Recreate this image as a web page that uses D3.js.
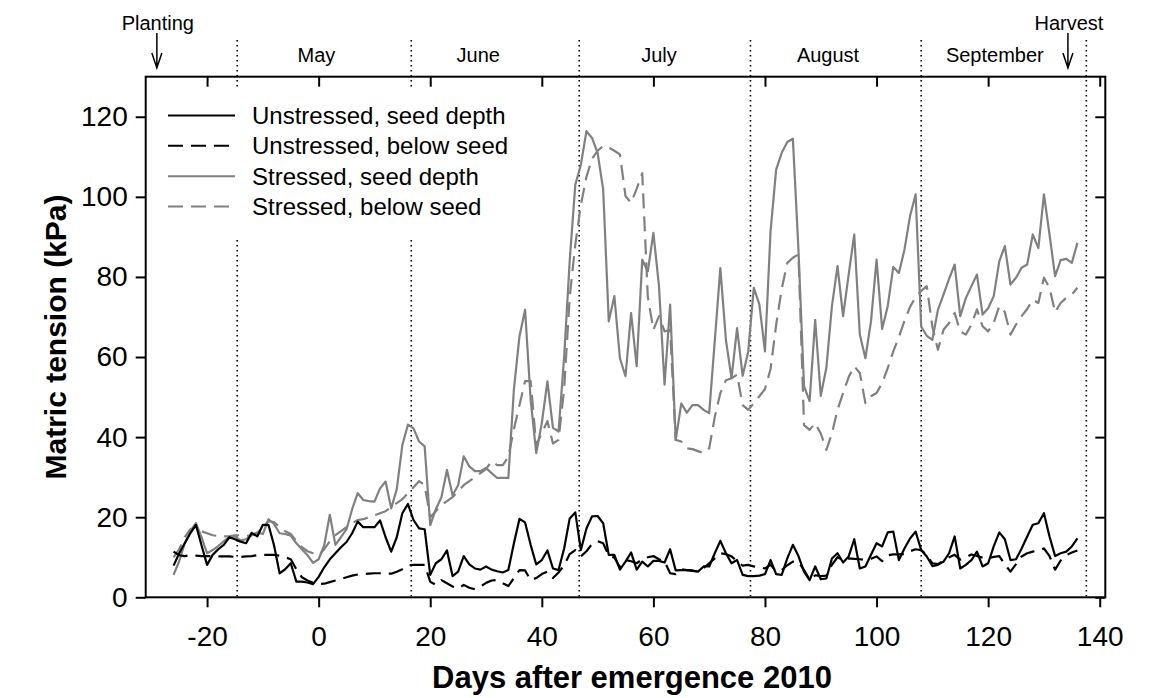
<!DOCTYPE html>
<html>
<head>
<meta charset="utf-8">
<script src="https://cdn.jsdelivr.net/npm/d3@7"></script>
<style>
  html, body { margin: 0; padding: 0; background: #ffffff; }
  svg { display: block; font-family: "Liberation Sans", Arial, Helvetica, sans-serif; }
</style>
</head>
<body>
<svg id="chart" width="1152" height="698"></svg>
<script>
// Daily soil matric tension, days after emergence (2010 season)
const days = d3.range(-26, 137);

const unstressedSeed = [
  7.9, 11, 13.5, 16, 18.1, 13, 8.1, 10.6, 12, 13.1,
  15, 14.5, 13.9, 13.5, 16.1, 15.2, 18.1, 18.1, 13, 6,
  7, 8.5, 3.9, 3.9, 3.7, 3.3, 5.1, 7.5, 9.5, 11,
  12.5, 13.8, 16, 18.9, 17.5, 17.5, 17.5, 19.2, 15, 11.4,
  15, 21, 23.3, 19.3, 17.2, 17, 5.6, 8.5, 9.5, 11.7,
  5.3, 6.4, 10.3, 8.2, 7.2, 6.9, 7.7, 6.9, 6.5, 6.2,
  6.8, 13.5, 19.6, 18.7, 13.1, 8.2, 9.3, 11.7, 7.2, 6.8,
  12.2, 19.7, 21.2, 11.8, 17.2, 20.2, 20.3, 18.5, 10.6, 10.6,
  6.9, 8.9, 11.2, 6.9, 8.9, 7.7, 9.1, 9.1, 8.7, 12,
  6.7, 6.8, 6.8, 6.7, 6.4, 7.7, 7.7, 11, 14.1, 11,
  8.5, 9.3, 5.6, 5.3, 5.3, 5.4, 5.8, 9.3, 5.8, 5.6,
  9.7, 13.1, 10.3, 6.4, 4.3, 7.7, 4.5, 4.7, 9.7, 11,
  8.7, 10.2, 14.5, 7.2, 7.7, 10.6, 13.5, 12.7, 16.2, 16.4,
  9.3, 12.2, 14.7, 16.4, 11.8, 10.2, 7.8, 8.1, 8.9, 11,
  15.2, 7.2, 8.1, 9.3, 11.4, 7.7, 8.5, 12.7, 16.2, 14.5,
  9.3, 9.5, 12.2, 15.2, 18.1, 18.5, 21, 15.2, 10.3, 11,
  11.4, 12.7, 14.7
];

const unstressedBelow = [
  11.4, 10.5, 10.3, 10.5, 10.4, 10.3, 10.3, 10.3, 10.2, 10.2,
  10.2, 10.1, 10.1, 10.2, 10.3, 10.5, 10.6, 10.6, 10.6, 10.4,
  10, 9.5, 7, 5, 4.2, 3.6, 3.3, 3.4, 3.8, 4.2,
  4.6, 5, 5.4, 5.7, 5.8, 5.9, 6, 6, 5.9, 5.9,
  6.4, 7, 8, 8.1, 8.1, 8.1, 3.9, 3.1, 4.3, 3.5,
  2.7, 2.2, 3.1, 2.4, 2, 2.7, 3.6, 4.2, 4.3, 3.5,
  2.8, 4.8, 6.8, 6.7, 4.3, 4.8, 5.8, 6.4, 4.8, 6.2,
  8, 10.8, 11.8, 10.2, 11.5, 13.3, 14, 13.5, 10.4, 9.9,
  7.5, 9.3, 9, 8.5, 9.5, 10, 10.3, 9.5, 9, 6,
  5.8, 7, 6.8, 6.6, 6.4, 7.3, 8.5, 9.7, 11, 10.8,
  10.2, 9, 7.9, 8.1, 7.7, 7.5, 7.2, 8.1, 6.5, 6.8,
  8, 8.9, 8.9, 6.8, 4.4, 5.5, 5.3, 5.4, 8.1, 10,
  9.3, 9.7, 9.6, 9.5, 9.3, 9.6, 10.2, 9, 10.5, 10.7,
  10.7, 10.8, 11.5, 12, 11.8, 10.5, 8.5, 8.3, 9.2, 10,
  10.6, 9.4, 10, 10.7, 10.3, 9.9, 9.7, 10.1, 10.3, 8.2,
  6.4, 8.3, 10.2, 11, 11.4, 11.7, 12.2, 10.3, 6.9, 9.2,
  10.5, 11.2, 11.7
];

const stressedSeed = [
  5.6, 9, 13.5, 16.5, 18.5, 15, 11, 11.8, 12.8, 14,
  15, 15.2, 14.2, 14.5, 15.5, 16.2, 15.8, 19.5, 18.3, 16,
  15.8, 15.4, 13.5, 12, 10.5, 8.6, 9.5, 13, 20.6, 13.1,
  15, 17, 22, 26, 24.3, 24, 23.9, 27.2, 28.9, 22.2,
  27, 38, 43.1, 42.2, 38.9, 37.7, 18, 22, 25, 31.8,
  25.5, 28, 35.2, 32.7, 31.5, 31.5, 32.3, 31, 29.8, 29.8,
  29.8, 52, 65.2, 71.8, 49.3, 36, 43.5, 53.9, 42.3, 41.4,
  60, 84, 103, 108, 116.4, 114.7, 111, 101.8, 68.9, 75.2,
  59.7, 55.2, 71, 57.7, 84.3, 81.4, 91, 77.7, 53.1, 73.1,
  39.3, 48.4, 46.1, 48, 48, 46.8, 46, 64, 82.2, 64.3,
  54.7, 67.2, 55.3, 61.4, 77.3, 73.1, 61.4, 91.4, 106.8, 111,
  113.7, 114.5, 86.8, 52.7, 49, 69.3, 50.3, 57.3, 72.7, 82.7,
  70.2, 80.6, 90.6, 65.6, 59.7, 68.9, 84.3, 67, 72.7, 82.5,
  81, 86.8, 95.2, 100.6, 67.6, 65.3, 64.3, 71.8, 75.6, 79.5,
  83.1, 70.2, 74.7, 77.7, 80.6, 70.6, 72.2, 75.2, 83.9, 87.7,
  78.1, 79.8, 82.3, 83.1, 90.6, 87.2, 100.6, 90.6, 80.2, 84.2,
  84.5, 83.5, 88.5
];

const stressedBelow = [
  10, 12, 15, 17, 17.5, 16.5, 16, 15.5, 15.3, 15.2,
  15.3, 15.5, 15.5, 15.3, 15.5, 16, 17.5, 19, 18.8, 17.5,
  16.5, 15.8, 14, 12.5, 11.5, 11, 10.5, 12, 14, 15.5,
  16.5, 17.5, 18.5, 19.3, 19.5, 20, 20.5, 21, 21.5, 22.5,
  23.5, 24.5, 26, 27.5, 29, 28, 20, 21.5, 23, 24,
  25, 26.5, 28, 29, 30, 31, 32, 34, 33, 33,
  35, 42, 48, 54, 54, 38, 41, 44, 38.4, 39.3,
  52, 75, 88, 98, 105, 109.5, 111.5, 112.7, 112.3, 111.5,
  110.6, 100.2, 98.5, 102, 105.9, 75, 66.8, 70.2, 66.4, 66.8,
  39.3, 38.9, 37.2, 37, 36.5, 36, 37.2, 45, 51, 54.2,
  54.7, 55.6, 48, 46.8, 48.5, 50.2, 52, 57, 68, 77,
  83.5, 84.8, 85.6, 43, 41.8, 43.5, 40.9, 36.8, 40.9, 46.8,
  51, 55, 57.7, 56, 48.5, 50.2, 51, 53.5, 57.2, 61.4,
  65, 69, 72.5, 75, 76.5, 77.7, 67.6, 61.8, 66.8, 68.5,
  71, 66.4, 65.6, 68.1, 71.9, 67.7, 66.4, 68.5, 72.7, 71.2,
  65.6, 68.1, 70.2, 72, 74.3, 73.5, 79.8, 77.3, 71.2, 73.5,
  74.8, 75.6, 77.3
];

const seriesNames = [
  "Unstressed, seed depth",
  "Unstressed, below seed",
  "Stressed, seed depth",
  "Stressed, below seed"
];
const seriesValues = [unstressedSeed, unstressedBelow, stressedSeed, stressedBelow];

const xTicks = [-20, 0, 20, 40, 60, 80, 100, 120, 140];
const yTicks = [0, 20, 40, 60, 80, 100, 120];

// Month boundaries and label centres, in days after emergence
const monthStarts = [-14.6, 16.6, 46.7, 77.4, 108.0, 137.6];
const monthNames = ["May", "June", "July", "August", "September"];
const monthLabelDays = [-0.4, 28.6, 61.0, 91.3, 121.2];

const eventNames = ["Planting", "Harvest"];
const eventDays = [-29.0, 134.3];

// ---- layout and styles ----
const box = { left: 145.7, right: 1105.3, top: 76.7, bottom: 597.3 };
const styles = [
  { color: "#000000", dash: null },
  { color: "#000000", dash: "15,8" },
  { color: "#808080", dash: null },
  { color: "#808080", dash: "15,8" }
];

const svg = d3.select("#chart");

const x = d3.scaleLinear().domain([-31, 141]).range([box.left, box.right]);
const y = d3.scaleLinear().domain([0, 130]).range([box.bottom, box.top]);

// month divider lines (dotted), extending above the plot
svg.append("g")
  .selectAll("line")
  .data(monthStarts)
  .join("line")
  .attr("x1", d => x(d)).attr("x2", d => x(d))
  .attr("y1", 40).attr("y2", box.bottom)
  .attr("stroke", "#000")
  .attr("stroke-width", 1.6)
  .attr("stroke-dasharray", "1.6,3.4");

// series lines (stressed drawn first so unstressed sits on top)
const line = d3.line()
  .x((d, i) => x(days[i]))
  .y(d => y(d));

const drawOrder = [2, 3, 0, 1];
svg.append("g")
  .selectAll("path")
  .data(drawOrder)
  .join("path")
  .attr("d", k => line(seriesValues[k]))
  .attr("fill", "none")
  .attr("stroke", k => styles[k].color)
  .attr("stroke-width", 2.2)
  .attr("stroke-linejoin", "round")
  .attr("stroke-dasharray", k => styles[k].dash);

// legend with white background
const legend = svg.append("g");
legend.append("rect")
  .attr("x", 152).attr("y", 88)
  .attr("width", 372).attr("height", 149)
  .attr("fill", "#ffffff");
const rowY = d3.scaleLinear().domain([0, 3]).range([115.5, 206.5]);
const rows = legend.selectAll("g.row")
  .data(seriesNames)
  .join("g")
  .attr("class", "row")
  .attr("transform", (d, i) => `translate(0,${rowY(i)})`);
rows.append("line")
  .attr("x1", 168).attr("x2", 235)
  .attr("y1", 0).attr("y2", 0)
  .attr("stroke", (d, i) => styles[i].color)
  .attr("stroke-width", 2)
  .attr("stroke-dasharray", (d, i) => styles[i].dash ? "15,8" : null);
rows.append("text")
  .attr("x", 252).attr("y", 0).attr("dy", "0.35em")
  .attr("font-size", 24)
  .attr("fill", "#000")
  .text(d => d);

// axes
const axisFont = 28;
const gx = svg.append("g")
  .attr("transform", `translate(0,${box.bottom})`)
  .call(d3.axisBottom(x).tickValues(xTicks).tickSize(10).tickPadding(19).tickFormat(d3.format("d")));
const gy = svg.append("g")
  .attr("transform", `translate(${box.left},0)`)
  .call(d3.axisLeft(y).tickValues(yTicks).tickSize(10).tickPadding(8).tickFormat(d3.format("d")));
const gt = svg.append("g")
  .attr("transform", `translate(0,${box.top})`)
  .call(d3.axisTop(x).tickValues(xTicks).tickSize(-10).tickFormat(""));
const gr = svg.append("g")
  .attr("transform", `translate(${box.right},0)`)
  .call(d3.axisRight(y).tickValues(yTicks).tickSize(-10).tickFormat(""));

[gx, gy, gt, gr].forEach(g => {
  g.select(".domain").remove();
  g.selectAll(".tick line").attr("stroke", "#000").attr("stroke-width", 2);
  g.selectAll(".tick text")
    .attr("font-size", axisFont)
    .attr("font-family", "'Liberation Sans', Arial, sans-serif")
    .attr("fill", "#000");
});
gx.selectAll(".tick text").text(d => d < 0 ? "-" + Math.abs(d) : d);

// plot frame
svg.append("rect")
  .attr("x", box.left).attr("y", box.top)
  .attr("width", box.right - box.left).attr("height", box.bottom - box.top)
  .attr("fill", "none").attr("stroke", "#000").attr("stroke-width", 2);

// month names above the plot
svg.append("g")
  .selectAll("text")
  .data(monthNames)
  .join("text")
  .attr("x", (d, i) => x(monthLabelDays[i]))
  .attr("y", 62)
  .attr("text-anchor", "middle")
  .attr("font-size", 20)
  .text(d => d);

// planting / harvest markers
const ev = svg.append("g")
  .selectAll("g")
  .data(eventNames)
  .join("g")
  .attr("transform", (d, i) => `translate(${x(eventDays[i])},0)`);
ev.append("text")
  .attr("x", 1).attr("y", 30)
  .attr("text-anchor", "middle")
  .attr("font-size", 20)
  .text(d => d);
ev.append("path")
  .attr("d", "M0,33 L0,68 M-5,53 L0,68 L5,53")
  .attr("fill", "none")
  .attr("stroke", "#000")
  .attr("stroke-width", 1.5);

// axis titles
svg.append("text")
  .attr("x", 632)
  .attr("y", 688)
  .attr("text-anchor", "middle")
  .attr("font-size", 31)
  .attr("font-weight", "bold")
  .text("Days after emergence 2010");
svg.append("text")
  .attr("transform", `translate(66,${(box.top + box.bottom) / 2}) rotate(-90)`)
  .attr("text-anchor", "middle")
  .attr("font-size", 30)
  .attr("font-weight", "bold")
  .text("Matric tension (kPa)");
</script>
</body>
</html>
